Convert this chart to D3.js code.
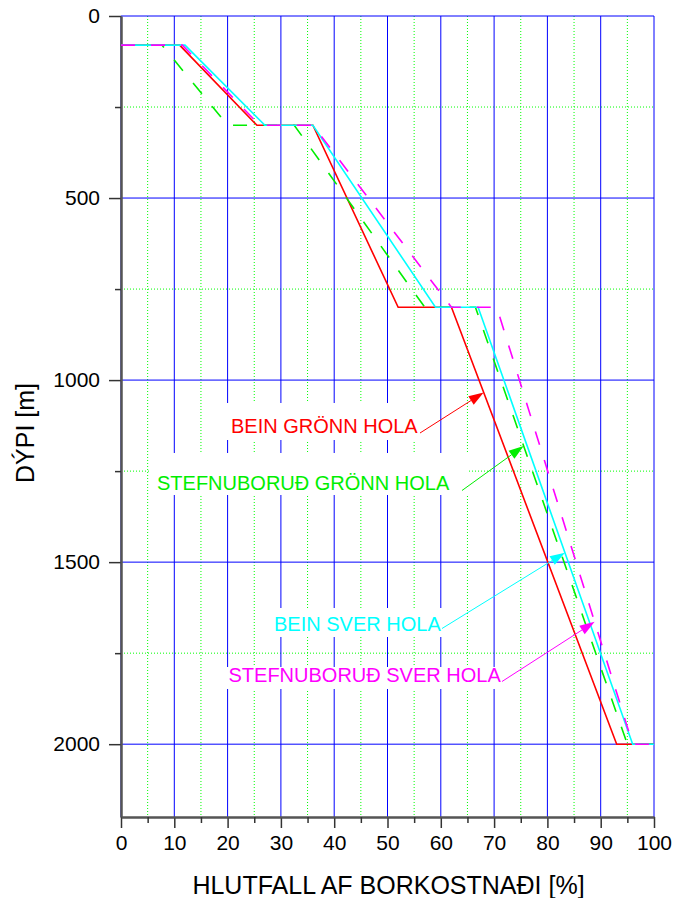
<!DOCTYPE html>
<html>
<head>
<meta charset="utf-8">
<script src="https://cdn.jsdelivr.net/npm/d3@7"></script>
<style>
  body { margin: 0; background: #fff; }
  svg { display: block; }
  text { font-family: "Liberation Sans", Arial, Helvetica, sans-serif; }
</style>
</head>
<body>
<svg id="chart" width="684" height="898"></svg>
<script>
// Share of total drilling cost reached at each depth, four well designs.
const depthLevels = [80, 80, 300, 300, 800, 800, 2000, 2000];
const beinGronn   = [0, 11, 25.5, 36, 52, 62, 93, 100];
const stefnuGronn = [0, 7.7, 20, 32.5, 57, 66.5, 95, 100];
const beinSver    = [0, 12, 27, 36, 59, 67, 96, 100];
const stefnuSver  = [0, 11.5, 26, 36, 62, 70.5, 96, 100];

const seriesNames = ["BEIN GRÖNN HOLA", "STEFNUBORUÐ GRÖNN HOLA", "BEIN SVER HOLA", "STEFNUBORUÐ SVER HOLA"];
const arrowDepths = [1034, 1181, 1474, 1664];

const xMajorTicks = [0, 10, 20, 30, 40, 50, 60, 70, 80, 90, 100];
const xMinorTicks = [5, 15, 25, 35, 45, 55, 65, 75, 85, 95];
const yMajorTicks = [0, 500, 1000, 1500, 2000];
const yMinorTicks = [250, 750, 1250, 1750];

const xTitle = "HLUTFALL AF BORKOSTNAÐI [%]";
const yTitle = "DÝPI [m]";

// ---- layout ----
const svg = d3.select("#chart");
const x = d3.scaleLinear().domain([0, 100]).range([121, 654]);
const y = d3.scaleLinear().domain([0, 2200]).range([16, 817]);
const colors = ["#ff0000", "#00ee00", "#00ffff", "#ff00ff"];
const dashes = [null, "14,16", null, "14,16"];
const seriesX = [beinGronn, stefnuGronn, beinSver, stefnuSver];

// label boxes and arrow tails (pixels)
const labelLayout = [
  { x: 231,   y: 433, box: [225, 403, 438, 440], tail: [420, 433] },
  { x: 157,   y: 490, box: [151, 453, 468, 495], tail: [462, 490.5] },
  { x: 274,   y: 631, box: [268, 608, 446, 637], tail: [442, 628.5] },
  { x: 228.5, y: 682, box: [222, 667, 506, 689], tail: [502, 681.5] }
];

// ---- grid ----
const grid = svg.append("g");
const [x0, x1] = x.range();
const [y0, y1] = y.range();

grid.selectAll(".vminor").data(xMinorTicks).join("line")
  .attr("x1", d => x(d)).attr("x2", d => x(d)).attr("y1", y0).attr("y2", y1)
  .attr("stroke", "#00ff00").attr("stroke-width", 1).attr("stroke-dasharray", "1,2");
grid.selectAll(".hminor").data(yMinorTicks).join("line")
  .attr("y1", d => y(d)).attr("y2", d => y(d)).attr("x1", x0).attr("x2", x1)
  .attr("stroke", "#00ff00").attr("stroke-width", 1).attr("stroke-dasharray", "1,2");
grid.selectAll(".vmajor").data(xMajorTicks).join("line")
  .attr("x1", d => x(d)).attr("x2", d => x(d)).attr("y1", y0).attr("y2", y1)
  .attr("stroke", "#0000ff").attr("stroke-width", 1);
grid.selectAll(".hmajor").data(yMajorTicks).join("line")
  .attr("y1", d => y(d)).attr("y2", d => y(d)).attr("x1", x0).attr("x2", x1)
  .attr("stroke", "#0000ff").attr("stroke-width", 1);

// ---- label backgrounds ----
svg.append("g").selectAll("rect").data(labelLayout).join("rect")
  .attr("x", d => d.box[0]).attr("y", d => d.box[1])
  .attr("width", d => d.box[2] - d.box[0]).attr("height", d => d.box[3] - d.box[1])
  .attr("fill", "#fff");

// ---- axes ----
const axisColor = "#555";
const intFmt = d3.format("d");
const yAxis = svg.append("g").attr("transform", `translate(${x0},0)`)
  .call(d3.axisLeft(y).tickValues(yMajorTicks).tickFormat(intFmt)
    .tickSize(12).tickPadding(9).tickSizeOuter(0));
const yMinor = svg.append("g").attr("transform", `translate(${x0},0)`)
  .call(d3.axisLeft(y).tickValues(yMinorTicks).tickSize(6).tickFormat("").tickSizeOuter(0));
const xAxis = svg.append("g").attr("transform", `translate(0,${y1})`)
  .call(d3.axisBottom(x).tickValues(xMajorTicks).tickFormat(intFmt)
    .tickSize(11).tickPadding(7).tickSizeOuter(0));
const xMinor = svg.append("g").attr("transform", `translate(0,${y1})`)
  .call(d3.axisBottom(x).tickValues(xMinorTicks).tickSize(6).tickFormat("").tickSizeOuter(0));

[yAxis, yMinor, xAxis, xMinor].forEach(g => {
  g.select(".domain").attr("stroke", axisColor).attr("stroke-width", 2);
  g.selectAll(".tick line").attr("stroke", "#333").attr("stroke-width", 1.5);
  g.selectAll(".tick text").attr("fill", "#000").style("font-size", "21px")
    .style("font-family", '"Liberation Sans", Arial, sans-serif');
});

// ---- series ----
const line = d3.line().x(d => x(d[0])).y(d => y(d[1]));
const seriesPoints = seriesX.map(xs => xs.map((v, i) => [v, depthLevels[i]]));
svg.append("g").selectAll("path").data(seriesPoints).join("path")
  .attr("d", line)
  .attr("fill", "none")
  .attr("stroke", (d, i) => colors[i])
  .attr("stroke-width", 1.6)
  .attr("stroke-dasharray", (d, i) => dashes[i]);

// value of a series at a given depth, along its sloping segments
function valueAtDepth(pts, depth) {
  for (let i = 0; i < pts.length - 1; i++) {
    const [va, da] = pts[i], [vb, db] = pts[i + 1];
    if (da !== db && depth >= Math.min(da, db) && depth <= Math.max(da, db)) {
      return va + (vb - va) * (depth - da) / (db - da);
    }
  }
  return pts[pts.length - 1][0];
}

// ---- labels with arrows ----
const labels = svg.append("g");
seriesNames.forEach((name, i) => {
  const L = labelLayout[i];
  labels.append("text")
    .attr("x", L.x).attr("y", L.y)
    .attr("fill", colors[i])
    .style("font-size", "20px")
    .text(name);

  const tipX = x(valueAtDepth(seriesPoints[i], arrowDepths[i]));
  const tipY = y(arrowDepths[i]);
  const [tx, ty] = L.tail;
  const ang = Math.atan2(tipY - ty, tipX - tx);
  const len = 15, half = 5;
  const bx = tipX - len * Math.cos(ang), by = tipY - len * Math.sin(ang);
  labels.append("line")
    .attr("x1", tx).attr("y1", ty).attr("x2", bx).attr("y2", by)
    .attr("stroke", colors[i]).attr("stroke-width", 1);
  labels.append("path")
    .attr("d", d3.line()([
      [tipX, tipY],
      [bx + half * Math.sin(ang), by - half * Math.cos(ang)],
      [bx - half * Math.sin(ang), by + half * Math.cos(ang)]
    ]) + "Z")
    .attr("fill", colors[i]);
});

// ---- axis titles ----
svg.append("text")
  .attr("x", (x0 + x1) / 2 + 1).attr("y", 894)
  .attr("text-anchor", "middle")
  .style("font-size", "25px")
  .text(xTitle);
svg.append("text")
  .attr("transform", "translate(34,433) rotate(-90)")
  .attr("text-anchor", "middle")
  .style("font-size", "25px")
  .text(yTitle);
</script>
</body>
</html>
